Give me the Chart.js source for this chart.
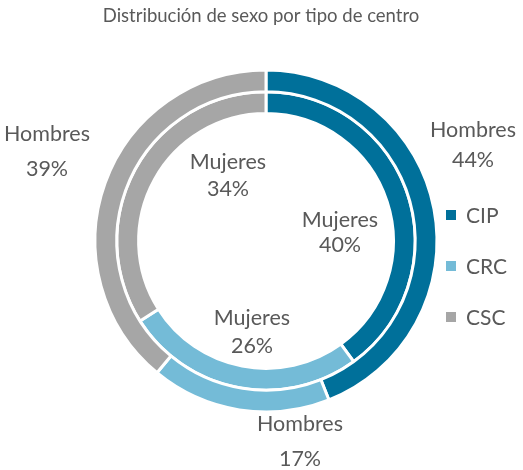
<!DOCTYPE html>
<html>
<head>
<meta charset="utf-8">
<script src="https://cdn.jsdelivr.net/npm/chart.js@4"></script>
<style>
html,body{margin:0;padding:0;background:#fff;}
#wrap{width:523px;height:470px;position:relative;}
</style>
</head>
<body>
<div id="wrap"><canvas id="c" width="523" height="470"></canvas></div>
<script>
const title = 'Distribución de sexo por tipo de centro';
const categories = ['CIP', 'CRC', 'CSC'];
const seriesNames = ['Hombres', 'Mujeres'];
const hombres = [44, 17, 39];
const mujeres = [40, 26, 34];
const colors = ['#00709A', '#74BBD7', '#A6A6A6'];

// label anchor offsets from chart centre (layout only): [dataset][category] -> [dx, dy]
const labelOffsets = [
  [[207, -96], [34, 201], [-219, -89]],
  [[74, -8], [-14, 91], [-38, -65]]
];
const lineGap = [[30, 35, 35], [25, 28, 27]];

const FONT = 'Lato, "Open Sans", sans-serif';
const TXT = '#595959';

const overlay = {
  id: 'overlay',
  afterDraw(chart) {
    const ctx = chart.ctx;
    const meta = chart.getDatasetMeta(0);
    const arc = meta.data[0];
    const cx = arc.x, cy = arc.y;
    ctx.save();
    // title
    ctx.fillStyle = TXT;
    ctx.font = '18.5px ' + FONT;
    ctx.textAlign = 'center';
    ctx.textBaseline = 'middle';
    ctx.fillText(title, 261, 16);
    // data labels
    ctx.font = '21.5px ' + FONT;
    chart.data.datasets.forEach((ds, di) => {
      ds.data.forEach((v, i) => {
        const [dx, dy] = labelOffsets[di][i];
        const g = lineGap[di][i];
        ctx.fillText(ds.label, cx + dx, cy + dy - g / 2);
        ctx.fillText(v + '%', cx + dx, cy + dy + g / 2);
      });
    });
    // legend
    ctx.textAlign = 'left';
    ctx.font = '21px ' + FONT;
    chart.data.labels.forEach((lab, i) => {
      const y = 215 + i * 51;
      ctx.fillStyle = colors[i];
      ctx.fillRect(446, y - 5, 10, 10);
      ctx.fillStyle = TXT;
      ctx.fillText(lab, 466, y + 1);
    });
    ctx.restore();
  }
};

const S = 345, CX = 266, CY = 241;
new Chart(document.getElementById('c'), {
  type: 'doughnut',
  data: {
    labels: categories,
    datasets: [
      { label: seriesNames[0], data: hombres, backgroundColor: colors, borderColor: '#ffffff', borderWidth: 3 },
      { label: seriesNames[1], data: mujeres, backgroundColor: colors, borderColor: '#ffffff', borderWidth: 3 }
    ]
  },
  options: {
    responsive: false,
    animation: false,
    cutout: '74.5%',
    layout: {
      padding: { left: CX - S / 2, right: 523 - (CX + S / 2), top: CY - S / 2, bottom: 470 - (CY + S / 2) }
    },
    plugins: {
      legend: { display: false },
      title: { display: false },
      tooltip: { enabled: false }
    }
  },
  plugins: [overlay]
});
</script>
</body>
</html>
